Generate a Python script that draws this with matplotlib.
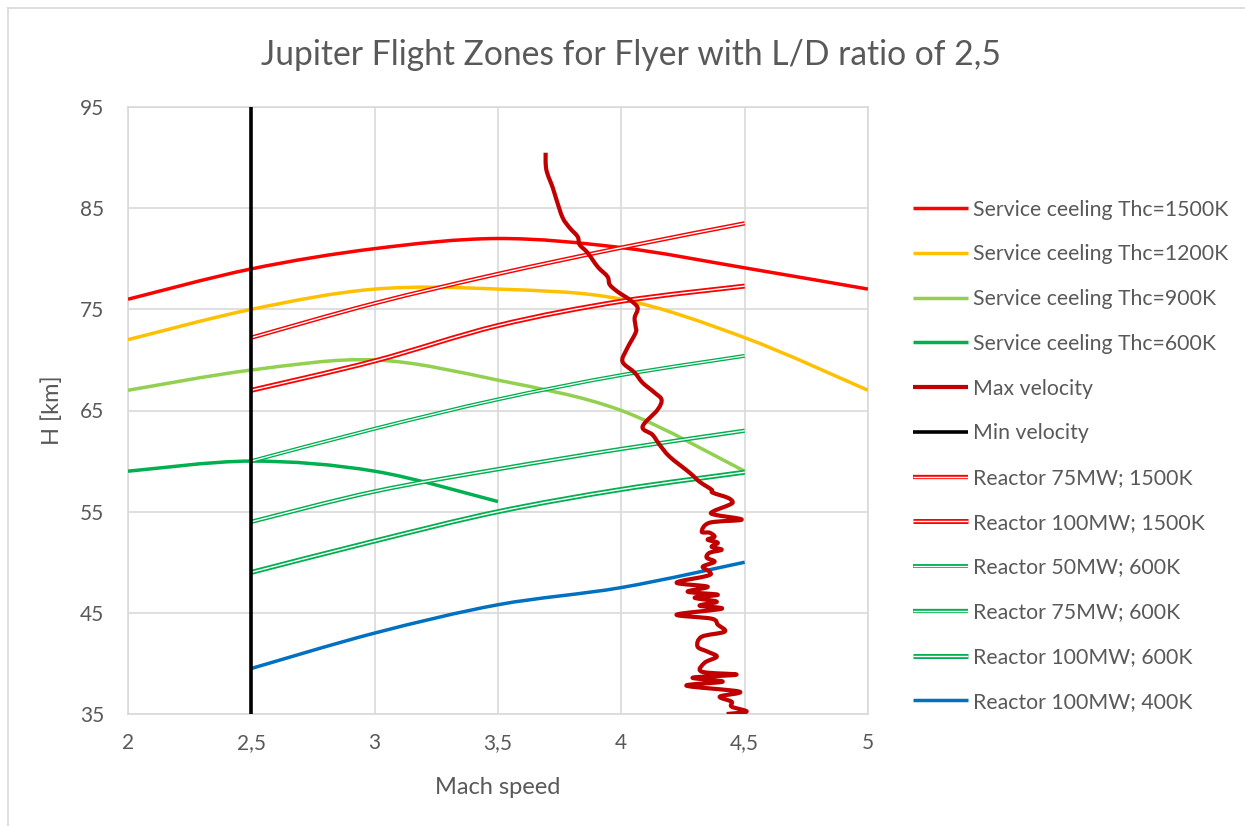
import matplotlib
matplotlib.use("Agg")
import matplotlib.pyplot as plt
from matplotlib.path import Path
from matplotlib.patches import PathPatch
from matplotlib.lines import Line2D
from matplotlib.legend_handler import HandlerTuple

plt.rcParams['font.family'] = ['Lato', 'DejaVu Sans']

# ---- data -------------------------------------------------------------
ceil_1500_mach = [2, 2.5, 3, 3.5, 4, 4.5, 5]
ceil_1500_h = [76, 79, 81, 82, 81.1, 79.1, 77]

ceil_1200_mach = [2, 2.5, 3, 3.5, 4, 4.5, 5]
ceil_1200_h = [72, 75, 77, 77, 76, 72.2, 67]

ceil_900_mach = [2, 2.5, 3, 3.5, 4, 4.5]
ceil_900_h = [67, 69, 70, 68, 65, 59]

ceil_600_mach = [2, 2.5, 3, 3.5]
ceil_600_h = [59, 60, 59, 56]

max_vel_mach = [3.693, 3.696, 3.722, 3.737, 3.762, 3.790, 3.823, 3.831, 3.863, 3.904,
                3.944, 3.953, 3.985, 4.034, 4.066, 4.054, 4.058, 4.058, 4.021, 4.005,
                4.054, 4.086, 4.135, 4.163, 4.147, 4.086, 4.126, 4.155, 4.196, 4.277,
                4.317, 4.366, 4.370, 4.431, 4.451, 4.439, 4.370, 4.378, 4.488, 4.358,
                4.326, 4.358, 4.378, 4.350, 4.391, 4.366, 4.407, 4.358, 4.346, 4.378,
                4.330, 4.358, 4.350, 4.224, 4.350, 4.269, 4.391, 4.297, 4.387, 4.317,
                4.407, 4.224, 4.366, 4.391, 4.419, 4.326, 4.309, 4.350, 4.387, 4.338,
                4.326, 4.467, 4.289, 4.411, 4.264, 4.479, 4.399, 4.447, 4.447, 4.508,
                4.427]
max_vel_h = [90.48, 88.80, 87.02, 85.84, 84.06, 83.07, 82.18, 81.39, 80.60, 79.21,
             78.23, 77.44, 76.74, 75.95, 75.16, 74.17, 73.28, 72.69, 71.01, 69.82,
             68.74, 67.75, 66.76, 66.07, 65.08, 63.40, 62.61, 61.62, 60.43, 58.85,
             57.96, 57.17, 56.88, 56.38, 55.99, 55.69, 55.00, 54.70, 54.21, 53.91,
             53.02, 52.92, 52.52, 52.23, 51.93, 51.53, 51.24, 50.94, 50.45, 50.05,
             49.56, 49.06, 48.67, 47.98, 47.58, 47.09, 46.79, 46.50, 46.10, 45.71,
             45.41, 44.82, 44.42, 43.83, 43.14, 42.64, 41.66, 41.16, 40.67, 40.07,
             39.18, 38.89, 38.59, 38.20, 37.80, 37.21, 36.72, 36.22, 35.73, 35.24,
             35.00]

min_vel_mach = [2.5, 2.5]
min_vel_h = [35, 95]

reactor_mach = [2.5, 3, 3.5, 4, 4.5]
r75_1500_h = [72.2, 75.6, 78.5, 81.1, 83.5]
r100_1500_h = [67.0, 69.9, 73.4, 75.8, 77.3]
r50_600_h = [60.0, 63.2, 66.1, 68.5, 70.4]
r75_600_h = [54.0, 57.0, 59.2, 61.2, 63.0]
r100_600_h = [49.0, 52.1, 55.0, 57.2, 58.9]
r100_400_h = [39.5, 43.0, 45.8, 47.5, 50.0]

x_ticks = [2, 2.5, 3, 3.5, 4, 4.5, 5]
x_tick_labels = ["2", "2,5", "3", "3,5", "4", "4,5", "5"]
y_ticks = [35, 45, 55, 65, 75, 85, 95]
y_tick_labels = ["35", "45", "55", "65", "75", "85", "95"]

title = "Jupiter Flight Zones for Flyer with L/D ratio of 2,5"
x_label = "Mach speed"
y_label = "H [km]"

# ---- styling ----------------------------------------------------------
RED = "#FF0000"
ORANGE = "#FFC000"
LIGHT_GREEN = "#92D050"
GREEN = "#00B050"
DARK_RED = "#C00000"
BLUE = "#0070C0"
TEXT = "#595959"
GRID = "#D9D9D9"

W, H = 1245, 826
fig = plt.figure(figsize=(W / 100, H / 100), dpi=100)
ax = fig.add_axes([128 / W, 1 - 714 / H, 740 / W, 607 / H])


def smooth_path(xs, ys):
    """Cubic Bezier path through the points (Catmull-Rom style smoothing)."""
    pts = list(zip(xs, ys))
    n = len(pts)
    verts = [pts[0]]
    codes = [Path.MOVETO]
    for i in range(n - 1):
        p0 = pts[i - 1] if i > 0 else pts[i]
        p1 = pts[i]
        p2 = pts[i + 1]
        p3 = pts[i + 2] if i + 2 < n else pts[i + 1]
        c1 = (p1[0] + (p2[0] - p0[0]) / 6, p1[1] + (p2[1] - p0[1]) / 6)
        c2 = (p2[0] - (p3[0] - p1[0]) / 6, p2[1] - (p3[1] - p1[1]) / 6)
        verts += [c1, c2, p2]
        codes += [Path.CURVE4] * 3
    return Path(verts, codes)


def draw_smooth(xs, ys, color, lw, z):
    patch = PathPatch(smooth_path(xs, ys), fill=False, edgecolor=color,
                      linewidth=lw, zorder=z, capstyle='butt', joinstyle='round')
    ax.add_patch(patch)


def draw_double(xs, ys, color, lw_outer, lw_inner, z):
    draw_smooth(xs, ys, color, lw_outer, z)
    draw_smooth(xs, ys, "white", lw_inner, z + 0.01)


LW = 2.5
D_THIN = (2.8, 0.9)
D_MID = (3.1, 1.0)
D_THICK = (3.6, 1.0)

draw_smooth(ceil_1500_mach, ceil_1500_h, RED, LW, 3)
draw_smooth(ceil_1200_mach, ceil_1200_h, ORANGE, LW, 3)
draw_smooth(ceil_900_mach, ceil_900_h, LIGHT_GREEN, LW, 3)
draw_smooth(ceil_600_mach, ceil_600_h, GREEN, LW, 3)

draw_double(reactor_mach, r75_1500_h, RED, *D_MID, 4)
draw_double(reactor_mach, r100_1500_h, RED, *D_THICK, 4)
draw_double(reactor_mach, r50_600_h, GREEN, *D_THIN, 4)
draw_double(reactor_mach, r75_600_h, GREEN, *D_MID, 4)
draw_double(reactor_mach, r100_600_h, GREEN, *D_THICK, 4)
draw_smooth(reactor_mach, r100_400_h, BLUE, LW, 4)

draw_smooth(max_vel_mach, max_vel_h, DARK_RED, 3.0, 6)
ax.plot(min_vel_mach, min_vel_h, color="black", lw=2.6, zorder=7,
        solid_capstyle='butt')

# ---- axes -------------------------------------------------------------
ax.set_xlim(2, 5)
ax.set_ylim(35, 95)
ax.set_xticks(x_ticks)
ax.set_xticklabels(x_tick_labels)
ax.set_yticks(y_ticks)
ax.set_yticklabels(y_tick_labels)
ax.tick_params(length=0, labelsize=15, labelcolor=TEXT)
ax.tick_params(axis='x', pad=14)
ax.tick_params(axis='y', pad=17)
ax.grid(True, color=GRID, lw=1.2, zorder=0)
ax.set_axisbelow(True)
for s in ax.spines.values():
    s.set_color(GRID)
    s.set_linewidth(1.2)

ax.set_xlabel(x_label, fontsize=17, color=TEXT, labelpad=17)
ax.set_ylabel(y_label, fontsize=17, color=TEXT, labelpad=12)
fig.text(631 / W, 1 - 55 / H, title, fontsize=24.2, color=TEXT,
         ha='center', va='center')

# ---- legend -----------------------------------------------------------
def solid(color, lw=LW):
    return Line2D([], [], color=color, lw=lw, solid_capstyle='butt')


def double(color, widths):
    lw_outer, lw_inner = widths
    return (Line2D([], [], color=color, lw=lw_outer, solid_capstyle='butt'),
            Line2D([], [], color="white", lw=lw_inner, solid_capstyle='butt'))


handles = [
    solid(RED), solid(ORANGE), solid(LIGHT_GREEN), solid(GREEN),
    solid(DARK_RED, 3.0), solid("black", 2.6),
    double(RED, D_MID), double(RED, D_THICK),
    double(GREEN, D_THIN), double(GREEN, D_MID), double(GREEN, D_THICK),
    solid(BLUE),
]
labels = [
    "Service ceeling Thc=1500K", "Service ceeling Thc=1200K",
    "Service ceeling Thc=900K", "Service ceeling Thc=600K",
    "Max velocity", "Min velocity",
    "Reactor 75MW; 1500K", "Reactor 100MW; 1500K",
    "Reactor 50MW; 600K", "Reactor 75MW; 600K", "Reactor 100MW; 600K",
    "Reactor 100MW; 400K",
]
leg = fig.legend(handles, labels, loc='upper left',
                 bbox_to_anchor=(913 / W, 1 - 199.5 / H),
                 bbox_transform=fig.transFigure, frameon=False,
                 fontsize=15.3, handlelength=2.6, handletextpad=0.22,
                 labelspacing=1.165, borderpad=0, borderaxespad=0,
                 handler_map={tuple: HandlerTuple(ndivide=1)})
for t in leg.get_texts():
    t.set_color(TEXT)

# chart-area border
fig.add_artist(Line2D([8 / W, 1], [1 - 8 / H, 1 - 8 / H], transform=fig.transFigure,
                      color=GRID, lw=1.2))
fig.add_artist(Line2D([8 / W, 8 / W], [0, 1 - 8 / H], transform=fig.transFigure,
                      color=GRID, lw=1.2))

fig.savefig("out.png", dpi=100, facecolor="white")
